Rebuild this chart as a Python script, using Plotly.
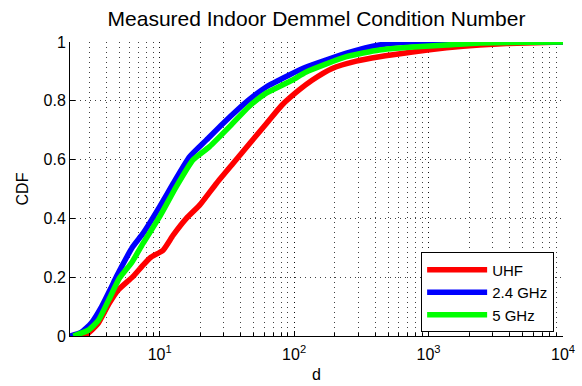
import plotly.graph_objects as go

title_text = "Measured Indoor Demmel Condition Number"
series_names = ["UHF", "2.4 GHz", "5 GHz"]
series_colors = ["#ff0000", "#0000ff", "#00ff00"]

uhf_x = [2.5, 2.9, 3.2, 3.5, 4.2, 4.9, 6.32, 7.52, 8.6, 10.6, 12.6, 15.8, 19.9, 26.4,
         35.1, 46.7, 62.3, 81, 109, 136, 192, 290, 431, 760, 1360, 2400, 3800, 10000]
uhf_y = [0, 0.008, 0.025, 0.044, 0.11, 0.156, 0.202, 0.241, 0.268, 0.292, 0.343, 0.40,
         0.446, 0.519, 0.587, 0.655, 0.723, 0.785, 0.837, 0.87, 0.91, 0.935, 0.95, 0.966,
         0.98, 0.99, 0.995, 1.0]

ghz24_x = [2.15, 2.6, 3.1, 3.7, 4.38, 4.77, 6.32, 7.52, 10, 12.6, 16.7, 22.3, 29.6, 46,
           62, 92, 123, 245, 431, 760, 10000]
ghz24_y = [0.0, 0.012, 0.044, 0.1, 0.167, 0.202, 0.304, 0.349, 0.44, 0.519, 0.61, 0.667,
           0.723, 0.803, 0.847, 0.888, 0.915, 0.962, 0.99, 1.0, 1.0]

ghz5_x = [2.28, 2.95, 3.51, 4.17, 5.03, 6.2, 7.52, 10, 13.3, 17.7, 23.5, 33.1, 46, 62,
          96.6, 123, 245, 431, 760, 1360, 2400, 10000]
ghz5_y = [0, 0.02, 0.054, 0.122, 0.197, 0.25, 0.315, 0.406, 0.508, 0.599, 0.644, 0.712,
          0.78, 0.826, 0.87, 0.898, 0.95, 0.973, 0.983, 0.99, 0.997, 1.0]

x_tickvals = [10, 100, 1000, 10000]
x_ticktext = ["10<sup>1</sup>", "10<sup>2</sup>", "10<sup>3</sup>", "10<sup>4</sup>"]
y_tickvals = [0, 0.2, 0.4, 0.6, 0.8, 1]
y_ticktext = ["0", "0.2", "0.4", "0.6", "0.8", "1"]

font_family = "Liberation Sans, Arial, Helvetica, sans-serif"

fig = go.Figure()
for xs, ys, name, color in [(uhf_x, uhf_y, series_names[0], series_colors[0]),
                            (ghz24_x, ghz24_y, series_names[1], series_colors[1]),
                            (ghz5_x, ghz5_y, series_names[2], series_colors[2])]:
    fig.add_trace(go.Scatter(x=xs, y=ys, mode="lines", name=name,
                             line=dict(color=color, width=5.5, shape="spline", smoothing=0.5)))

grid_style = dict(gridcolor="rgba(0,0,0,0.75)", gridwidth=1, griddash="1px,4px")

fig.update_layout(
    width=582, height=386,
    margin=dict(l=70, r=19, t=42, b=50),
    paper_bgcolor="white", plot_bgcolor="white",
    font=dict(family=font_family, size=16, color="black"),
    title=dict(text=title_text, x=0.5, xref="paper", xanchor="center",
               y=1 - 19 / 386, yref="container", yanchor="middle",
               font=dict(size=21, family=font_family, color="black")),
    showlegend=True,
    legend=dict(x=0.982, y=0.012, xanchor="right", yanchor="bottom",
                bordercolor="black", borderwidth=1, bgcolor="white",
                font=dict(size=15, family=font_family), tracegroupgap=0,
                itemwidth=60),
    xaxis=dict(type="log", range=[0.333, 4], tickvals=x_tickvals, ticktext=x_ticktext,
               ticks="inside", ticklen=5, tickcolor="black", showline=True,
               linecolor="black", linewidth=1, mirror=False, showgrid=True,
               zeroline=False, automargin=False, tickfont=dict(size=16),
               ticklabelstandoff=4,
               title=dict(text="d", standoff=6, font=dict(size=16)),
               minor=dict(ticks="inside", ticklen=3, tickcolor="black", dtick="D1",
                          showgrid=True, **grid_style),
               **grid_style),
    yaxis=dict(range=[0, 1], tickvals=y_tickvals, ticktext=y_ticktext,
               ticks="inside", ticklen=5, tickcolor="black", showline=True,
               linecolor="black", linewidth=1, mirror=False, showgrid=True,
               zeroline=False, automargin=False, tickfont=dict(size=16),
               title=dict(text="CDF", standoff=10, font=dict(size=16)),
               **grid_style),
)

fig.write_html("out.html")
